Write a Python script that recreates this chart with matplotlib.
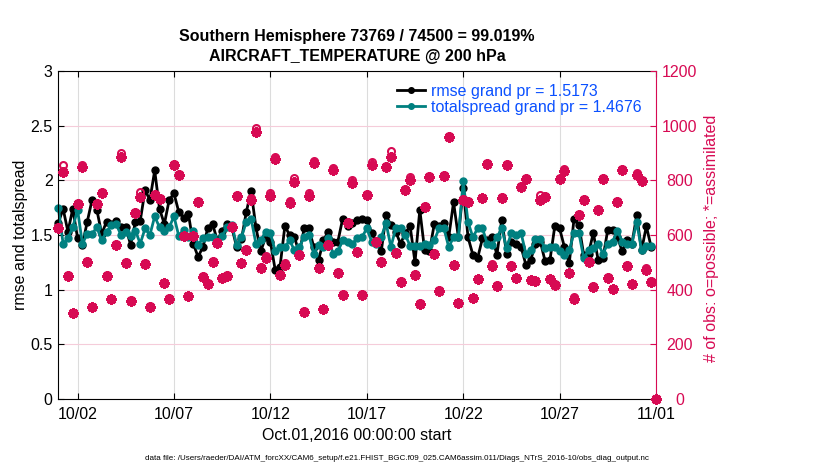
import matplotlib.pyplot as plt
import matplotlib.dates as mdates
import numpy as np
import pandas as pd

plt.rcParams['font.family'] = ['Liberation Sans', 'DejaVu Sans']

# 6-hourly bins from the start time to Nov 1 00Z
bin_start = '2016-10-01 00:00'
n_bins = 125
times = pd.date_range(bin_start, periods=n_bins, freq='6h')

rmse = [
    1.61, 1.74, 1.53, 1.74, 1.47, 1.41, 1.62, 1.82, 1.73, 1.51,
    1.62, 1.60, 1.63, 1.57, 1.57, 1.41, 1.62, 1.63, 1.91, 1.82,
    2.09, 1.74, 1.60, 1.82, 1.88, 1.71, 1.66, 1.69, 1.42, 1.30,
    1.39, 1.56, 1.60, 1.45, 1.54, 1.60, 1.57, 1.39, 1.46, 1.71,
    1.90, 1.57, 1.35, 1.48, 1.44, 1.18, 1.21, 1.58, 1.50, 1.48,
    1.33, 1.56, 1.56, 1.39, 1.27, 1.45, 1.53, 1.44, 1.44, 1.65,
    1.58, 1.61, 1.64, 1.65, 1.64, 1.52, 1.44, 1.35, 1.68, 1.59,
    1.53, 1.42, 1.52, 1.58, 1.25, 1.73, 1.36, 1.35, 1.60, 1.58,
    1.61, 1.48, 1.80, 1.48, 1.93, 1.48, 1.32, 1.29, 1.47, 1.45,
    1.48, 1.32, 1.64, 1.33, 1.44, 1.42, 1.39, 1.23, 1.27, 1.42,
    1.44, 1.26, 1.27, 1.58, 1.56, 1.39, 1.24, 1.65, 1.59, 1.32,
    1.33, 1.52, 1.27, 1.29, 1.55, 1.55, 1.48, 1.35, 1.45, 1.42,
    1.68, 1.36, 1.58, 1.39, np.nan]

totalspread = [
    1.75, 1.42, 1.47, 1.57, 1.73, 1.42, 1.51, 1.51, 1.57, 1.45,
    1.53, 1.59, 1.60, 1.50, 1.53, 1.49, 1.54, 1.42, 1.56, 1.50,
    1.67, 1.57, 1.54, 1.57, 1.67, 1.49, 1.55, 1.48, 1.54, 1.41,
    1.47, 1.48, 1.48, 1.44, 1.49, 1.57, 1.59, 1.41, 1.48, 1.62,
    1.65, 1.42, 1.45, 1.53, 1.52, 1.35, 1.39, 1.39, 1.45, 1.36,
    1.39, 1.48, 1.50, 1.33, 1.41, 1.39, 1.47, 1.33, 1.35, 1.45,
    1.44, 1.42, 1.47, 1.48, 1.56, 1.44, 1.42, 1.48, 1.61, 1.39,
    1.56, 1.56, 1.50, 1.40, 1.40, 1.40, 1.42, 1.41, 1.45, 1.56,
    1.56, 1.39, 1.48, 1.48, 1.99, 1.62, 1.48, 1.56, 1.56, 1.42,
    1.41, 1.48, 1.56, 1.38, 1.52, 1.50, 1.52, 1.33, 1.36, 1.46,
    1.46, 1.38, 1.39, 1.39, 1.35, 1.32, 1.36, 1.52, 1.52, 1.29,
    1.36, 1.38, 1.42, 1.33, 1.42, 1.44, 1.54, 1.44, 1.42, 1.42,
    1.62, 1.36, 1.40, 1.40, np.nan]

nused = [
    624, 832, 450, 313, 713, 850, 502, 335, 713, 753,
    450, 365, 563, 884, 496, 360, 679, 740, 494, 338,
    746, 731, 423, 367, 856, 820, 596, 377, 596, 722,
    448, 421, 502, 570, 441, 450, 631, 743, 496, 545,
    728, 978, 478, 515, 743, 877, 454, 490, 716, 795,
    527, 320, 743, 862, 478, 328, 563, 838, 460, 381,
    643, 789, 539, 381, 746, 856, 576, 502, 850, 884,
    533, 429, 765, 802, 454, 348, 704, 811, 530, 396,
    816, 960, 490, 350, 728, 722, 368, 438, 734, 860,
    487, 415, 737, 856, 487, 441, 775, 805, 435, 431,
    728, 740, 438, 417, 805, 835, 460, 365, 673, 728,
    502, 411, 692, 805, 444, 401, 722, 838, 487, 419,
    820, 798, 472, 429, 0]

nposs = [
    630, 856, 452, 313, 716, 855, 505, 337, 716, 758,
    452, 365, 566, 899, 500, 362, 683, 759, 497, 340,
    750, 735, 425, 368, 860, 824, 598, 378, 598, 726,
    450, 423, 505, 573, 443, 452, 634, 747, 498, 548,
    735, 993, 482, 522, 752, 887, 457, 497, 726, 808,
    532, 322, 752, 872, 481, 330, 566, 845, 463, 383,
    646, 800, 542, 383, 750, 866, 579, 505, 854, 909,
    536, 431, 768, 812, 457, 350, 707, 815, 533, 398,
    819, 963, 492, 352, 732, 725, 370, 440, 737, 863,
    493, 417, 740, 859, 490, 443, 778, 808, 437, 433,
    745, 743, 440, 419, 808, 840, 462, 372, 676, 732,
    505, 413, 695, 808, 446, 403, 725, 841, 490, 421,
    826, 801, 478, 431, 0]

tick_days = ['2016-10-02', '2016-10-07', '2016-10-12', '2016-10-17',
             '2016-10-22', '2016-10-27', '2016-11-01']

magenta = '#D70A53'
teal = '#008080'
blue = '#0A50FF'
fs = 11.5
asterisk = (8, 2, 0)   # MATLAB-like '*' (spokes, not a filled star)

fig = plt.figure(figsize=(8.3, 4.7), dpi=100)
ax = fig.add_axes([58.3 / 830, 1 - 399 / 470, (656 - 58.3) / 830, 328 / 470])
ax2 = ax.twinx()

# rmse and spread on the left axis
l1, = ax.plot(times, rmse, '-', marker='o', color='k', lw=2, ms=5, clip_on=False,
              label='rmse grand pr = 1.5173')
l2, = ax.plot(times, totalspread, '-', marker='o', color=teal, lw=2, ms=5,
              clip_on=False, label='totalspread grand pr = 1.4676')

# observation counts on the right axis
ax2.plot(times, nposs, 'o', mfc='none', mec=magenta, ms=5, mew=1.5, clip_on=False)
ax2.plot(times, nused, ls='none', marker=asterisk, color=magenta, ms=7.5, mew=2,
         clip_on=False)

ax.set_xlim(pd.Timestamp('2016-10-01'), pd.Timestamp('2016-11-01'))
ax.set_ylim(0, 3)
ax2.set_ylim(0, 1200)
ax.set_yticks(np.arange(0, 3.01, 0.5))
ax.set_yticklabels(['0', '0.5', '1', '1.5', '2', '2.5', '3'])
ax2.set_yticks(np.arange(0, 1201, 200))
ax.set_xticks(pd.to_datetime(tick_days))
ax.xaxis.set_major_formatter(mdates.DateFormatter('%m/%d'))

ax.set_axisbelow(True)
ax.grid(axis='x', color='#DCDCDC', lw=0.8)
ax.grid(axis='y', color='#F5CCDA', lw=0.8)

ax.tick_params(direction='in', length=4, width=0.8, top=True, right=False,
               labelsize=fs, pad=4)
ax.tick_params(axis='x', pad=6)
ax2.tick_params(direction='in', length=4, width=0.8, colors=magenta,
                labelsize=fs, pad=17)
for lbl in ax2.get_yticklabels():
    lbl.set_ha('center')

ax.spines['right'].set_visible(False)
for s in ['left', 'top', 'bottom']:
    ax2.spines[s].set_visible(False)
ax2.spines['right'].set_color(magenta)
for s in ax.spines.values():
    s.set_linewidth(0.8)
ax2.spines['right'].set_linewidth(0.8)

leg = ax2.legend(handles=[l1, l2], loc='upper left',
                 bbox_to_anchor=(397 / 830, 1 - 84 / 470),
                 bbox_transform=fig.transFigure, frameon=False,
                 borderpad=0, borderaxespad=0, labelspacing=0.05,
                 handlelength=1.75, handletextpad=0.35, fontsize=fs,
                 labelcolor=blue, markerscale=0.8)

fig.text(357 / 830, 1 - 37 / 470, 'Southern Hemisphere 73769 / 74500 = 99.019%',
         ha='center', va='center', fontsize=fs, fontweight='bold')
fig.text(357 / 830, 1 - 57 / 470, 'AIRCRAFT_TEMPERATURE @ 200 hPa',
         ha='center', va='center', fontsize=fs, fontweight='bold')
fig.text(357 / 830, 1 - 436 / 470, 'Oct.01,2016 00:00:00 start',
         ha='center', va='center', fontsize=fs)
fig.text(20 / 830, 0.5, 'rmse and totalspread', rotation=90,
         ha='center', va='center', fontsize=fs)
fig.text(711 / 830, 1 - 238 / 470, '# of obs: o=possible; *=assimilated',
         rotation=90, ha='center', va='center', fontsize=fs, color=magenta)
fig.text(397 / 830, 1 - 458 / 470,
         'data file: /Users/raeder/DAI/ATM_forcXX/CAM6_setup/'
         'f.e21.FHIST_BGC.f09_025.CAM6assim.011/Diags_NTrS_2016-10/obs_diag_output.nc',
         ha='center', va='center', fontsize=5.8)

fig.savefig('out.png', dpi=100)
